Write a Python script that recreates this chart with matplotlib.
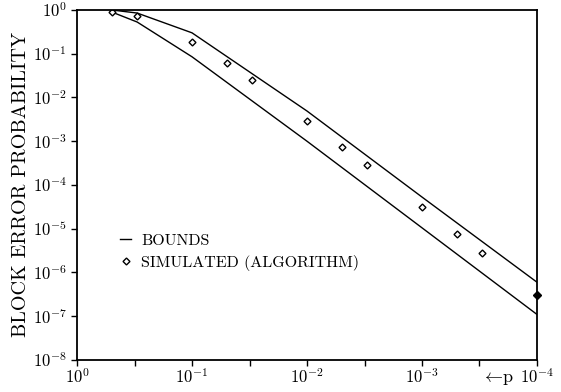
import numpy as np
import matplotlib.pyplot as plt
from matplotlib.lines import Line2D

plt.rcParams['mathtext.fontset'] = 'cm'
plt.rcParams['axes.unicode_minus'] = False

# bounds
p_bound = [0.5, 0.3, 0.1, 0.01, 0.001, 0.0001]
upper = [1.0, 0.85, 0.30, 4.9e-3, 5.3e-5, 6.0e-7]
lower = [0.9, 0.53, 0.085, 1.0e-3, 1.05e-5, 1.1e-7]

# simulated points
p_sim = [0.5, 0.3, 0.1, 0.05, 0.03, 0.01, 0.005, 0.003, 0.001, 0.0005, 0.0003]
pe_sim = [0.9, 0.73, 0.186, 0.062, 0.025, 2.9e-3, 7.4e-4, 2.9e-4, 3.1e-5, 7.6e-6, 2.8e-6]
p_fill = [0.0001]
pe_fill = [3.1e-7]

xticks = [1, 1e-1, 1e-2, 1e-3, 1e-4]
xlabels = [r'$10^{0}$', r'$10^{-1}$', r'$10^{-2}$', r'$10^{-3}$', r'$10^{-4}$']
yticks = [10.0**-k for k in range(9)]
ylabels = [r'$10^{%d}$' % (-k) if k else r'$10^{0}$' for k in range(9)]

fig = plt.figure(figsize=(5.61, 3.92), dpi=100)
ax = fig.add_axes([0.1373, 0.0816, 0.8199, 0.893])

ax.plot(p_bound, upper, 'k-', lw=1.0)
ax.plot(p_bound, lower, 'k-', lw=1.0)
ax.plot(p_sim, pe_sim, 'D', ms=3.5, mfc='white', mec='black', mew=1.0)
ax.plot(p_fill, pe_fill, 'D', ms=4, mfc='black', mec='black', clip_on=False)

ax.set_xscale('log')
ax.set_yscale('log')
ax.set_xlim(1, 1e-4)
ax.set_ylim(1e-8, 1)

ax.set_xticks(xticks)
ax.set_xticklabels(xlabels, fontsize=12)
ax.set_xticks([10**-0.5, 10**-1.5, 10**-2.5, 10**-3.5], minor=True)
ax.set_yticks(yticks)
ax.set_yticklabels(ylabels, fontsize=12)
ax.yaxis.set_minor_locator(plt.NullLocator())
ax.tick_params(which='both', direction='out', length=4, width=1.0)
ax.tick_params(axis='x', pad=2)
for s in ax.spines.values():
    s.set_linewidth(1.3)

ax.set_ylabel('BLOCK ERROR PROBABILITY', fontfamily='cmr10', fontsize=14.5, labelpad=2)
ax.text(0.915, -0.052, r'$\leftarrow\!\mathrm{p}$', transform=ax.transAxes,
        fontsize=13, ha='center', va='center')

handles = [Line2D([], [], color='black', lw=1.0),
           Line2D([], [], ls='', marker='D', ms=3.5, mfc='white', mec='black', mew=1.0)]
ax.legend(handles, ['BOUNDS', 'SIMULATED (ALGORITHM)'], loc='upper left',
          bbox_to_anchor=(0.08, 0.38), frameon=False, handlelength=0.7,
          handletextpad=0.6, labelspacing=0.45, borderaxespad=0,
          prop={'family': 'cmr10', 'size': 11.5})

fig.savefig('out.png', dpi=100)
